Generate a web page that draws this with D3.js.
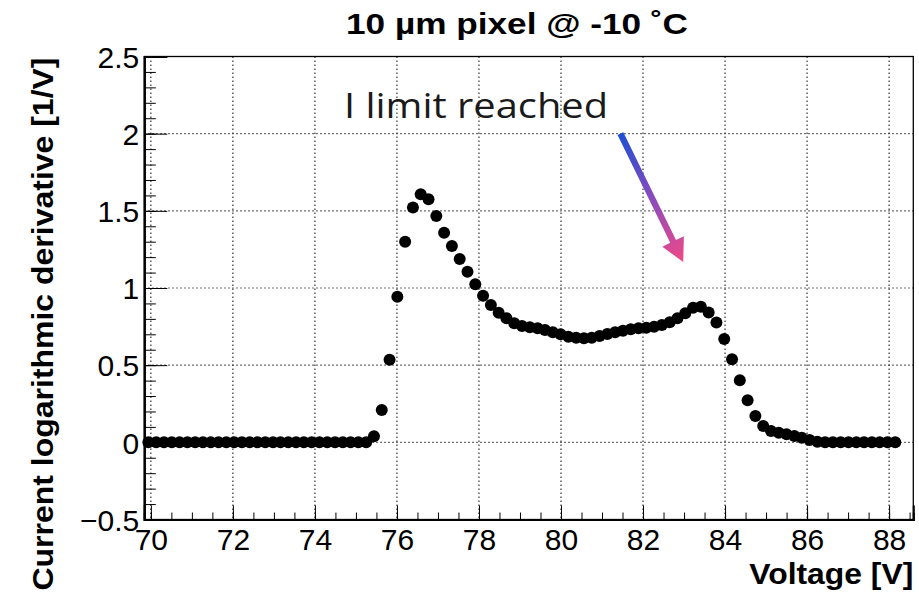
<!DOCTYPE html>
<html>
<head>
<meta charset="utf-8">
<script src="https://cdn.jsdelivr.net/npm/d3@7/dist/d3.min.js"></script>
<style>
  html, body { margin: 0; padding: 0; background: #fff; }
  svg { display: block; }
</style>
</head>
<body>
<svg id="chart" width="919" height="599"></svg>
<script>
// ---- Data ----
const voltage = [
  69.94, 70.13, 70.32, 70.51, 70.70, 70.89, 71.08, 71.27, 71.46, 71.65,
  71.84, 72.03, 72.22, 72.41, 72.60, 72.79, 72.98, 73.16, 73.35, 73.54,
  73.73, 73.92, 74.11, 74.30, 74.49, 74.68, 74.87, 75.06, 75.25, 75.44,
  75.63, 75.82, 76.01, 76.20, 76.39, 76.58, 76.77, 76.96, 77.15, 77.34,
  77.53, 77.72, 77.91, 78.10, 78.29, 78.48, 78.67, 78.86, 79.05, 79.24,
  79.43, 79.61, 79.80, 79.99, 80.18, 80.37, 80.56, 80.75, 80.94, 81.13,
  81.32, 81.51, 81.70, 81.89, 82.08, 82.27, 82.46, 82.65, 82.84, 83.03,
  83.22, 83.41, 83.60, 83.79, 83.98, 84.17, 84.36, 84.55, 84.74, 84.93,
  85.12, 85.31, 85.50, 85.69, 85.87, 86.06, 86.25, 86.44, 86.63, 86.82,
  87.01, 87.20, 87.39, 87.58, 87.77, 87.96, 88.15
];
const logDerivative = [
  0, 0, 0, 0, 0, 0, 0, 0, 0, 0,
  0, 0, 0, 0, 0, 0, 0, 0, 0, 0,
  0, 0, 0, 0, 0, 0, 0, 0, 0, 0.039,
  0.209, 0.535, 0.944, 1.300, 1.521, 1.607, 1.575, 1.467, 1.358, 1.272,
  1.188, 1.106, 1.024, 0.950, 0.890, 0.840, 0.804, 0.771, 0.754, 0.745,
  0.739, 0.728, 0.713, 0.700, 0.684, 0.678, 0.674, 0.678, 0.689, 0.702,
  0.713, 0.723, 0.732, 0.739, 0.743, 0.749, 0.760, 0.778, 0.804, 0.836,
  0.872, 0.879, 0.841, 0.776, 0.669, 0.538, 0.402, 0.272, 0.170, 0.106,
  0.073, 0.062, 0.052, 0.041, 0.030, 0.015, 0.004, 0, 0, 0,
  0, 0, 0, 0, 0, 0, 0
];
const xTickValues = [70, 72, 74, 76, 78, 80, 82, 84, 86, 88];
const xTickLabels = ["70", "72", "74", "76", "78", "80", "82", "84", "86", "88"];
const yTickValues = [-0.5, 0, 0.5, 1, 1.5, 2, 2.5];
const yTickLabels = ["\u22120.5", "0", "0.5", "1", "1.5", "2", "2.5"];
const titleText = "10 µm pixel @ -10 ˚C";
const xTitle = "Voltage [V]";
const yTitle = "Current logarithmic derivative [1/V]";
const noteText = "I limit reached";

// ---- Layout ----
const frame = { left: 144.3, right: 913.3, top: 56.5, bottom: 519.5 };
const xDomain = [69.84, 88.59];
const yDomain = [-0.5, 2.5];

const svg = d3.select("#chart");
const x = d3.scaleLinear().domain(xDomain).range([frame.left, frame.right]);
const y = d3.scaleLinear().domain(yDomain).range([frame.bottom, frame.top]);

const FONT = "'Liberation Sans', Arial, Helvetica, sans-serif";

// grid (dotted)
const grid = svg.append("g").attr("stroke", "#333").attr("stroke-width", 1.2)
  .attr("stroke-dasharray", "1.4,2.6").attr("fill", "none");
grid.selectAll("line.gx").data(xTickValues).join("line")
  .attr("x1", d => x(d)).attr("x2", d => x(d))
  .attr("y1", frame.top).attr("y2", frame.bottom);
grid.selectAll("line.gy").data(yTickValues.filter(v => v > yDomain[0])).join("line")
  .attr("class", "gy")
  .attr("x1", frame.left).attr("x2", frame.right)
  .attr("y1", d => y(d)).attr("y2", d => y(d));

// frame
svg.append("rect").attr("x", frame.left).attr("y", frame.top)
  .attr("width", frame.right - frame.left).attr("height", frame.bottom - frame.top)
  .attr("fill", "none").attr("stroke", "#000").attr("stroke-width", 1.3);

// axes with inside ticks (ROOT style)
const xMinor = d3.range(140, 178).map(v => v / 2).filter(v => v >= xDomain[0] && v <= xDomain[1]);
const yMinor = d3.range(-5, 26).map(v => v / 10);

const xAxisMinor = d3.axisBottom(x).tickValues(xMinor).tickSize(-7).tickFormat("");
const xAxisMajor = d3.axisBottom(x).tickValues(xTickValues).tickSize(-14)
  .tickFormat((d, i) => xTickLabels[i]);
const yAxisMinor = d3.axisLeft(y).tickValues(yMinor).tickSize(-11.5).tickFormat("");
const yAxisMajor = d3.axisLeft(y).tickValues(yTickValues).tickSize(-23)
  .tickFormat((d, i) => yTickLabels[i]);

function styleAxis(g) {
  g.select(".domain").attr("stroke", "#000").attr("stroke-width", 2);
  g.selectAll(".tick line").attr("stroke", "#000").attr("stroke-width", 1);
  g.selectAll("text").attr("font-family", FONT).attr("font-size", 30).attr("fill", "#000");
}
svg.append("g").attr("transform", `translate(0,${frame.bottom})`).call(xAxisMinor).call(styleAxis);
const gx = svg.append("g").attr("transform", `translate(0,${frame.bottom})`).call(xAxisMajor).call(styleAxis);
gx.selectAll(".tick text").attr("dy", null).attr("y", 30);
svg.append("g").attr("transform", `translate(${frame.left},0)`).call(yAxisMinor).call(styleAxis);
const gy = svg.append("g").attr("transform", `translate(${frame.left},0)`).call(yAxisMajor).call(styleAxis);
gy.selectAll(".tick text").attr("dy", "0.36em").attr("x", -5);

// data points
svg.append("g").selectAll("circle").data(voltage).join("circle")
  .attr("cx", d => x(d)).attr("cy", (d, i) => y(logDerivative[i]))
  .attr("r", 6).attr("fill", "#000");

// titles
svg.append("text").attr("x", 517).attr("y", 34).attr("text-anchor", "middle")
  .attr("font-family", FONT).attr("font-weight", "bold").attr("font-size", 30)
  .attr("textLength", 342).attr("lengthAdjust", "spacingAndGlyphs")
  .text(titleText);
svg.append("text").attr("x", frame.right).attr("y", 584).attr("text-anchor", "end")
  .attr("font-family", FONT).attr("font-weight", "bold").attr("font-size", 29)
  .attr("textLength", 164).attr("lengthAdjust", "spacingAndGlyphs")
  .text(xTitle);
svg.append("text").attr("transform", `translate(53,${frame.top + 1}) rotate(-90)`)
  .attr("text-anchor", "end")
  .attr("font-family", FONT).attr("font-weight", "bold").attr("font-size", 29)
  .attr("textLength", 533).attr("lengthAdjust", "spacingAndGlyphs")
  .text(yTitle);

// annotation
const defs = svg.append("defs");
const a0 = [81.45, 2.0], a1 = [82.98, 1.168];
const grad = defs.append("linearGradient").attr("id", "arrowGrad")
  .attr("gradientUnits", "userSpaceOnUse")
  .attr("x1", x(a0[0])).attr("y1", y(a0[1])).attr("x2", x(a1[0])).attr("y2", y(a1[1]));
grad.append("stop").attr("offset", 0).attr("stop-color", "#1d4fd3");
grad.append("stop").attr("offset", 0.5).attr("stop-color", "#8a4bbf");
grad.append("stop").attr("offset", 1).attr("stop-color", "#f04a86");

const p0 = [x(a0[0]), y(a0[1])], p1 = [x(a1[0]), y(a1[1])];
const dx = p1[0] - p0[0], dy = p1[1] - p0[1];
const len = Math.hypot(dx, dy), ux = dx / len, uy = dy / len, nx = -uy, ny = ux;
const headL = 23, headW = 12, shaftW = 3.2;
const bx = p1[0] - ux * headL, by = p1[1] - uy * headL;
const arrowPts = [
  [p0[0] + nx * shaftW, p0[1] + ny * shaftW],
  [bx + nx * shaftW, by + ny * shaftW],
  [bx + nx * headW, by + ny * headW],
  [p1[0], p1[1]],
  [bx - nx * headW, by - ny * headW],
  [bx - nx * shaftW, by - ny * shaftW],
  [p0[0] - nx * shaftW, p0[1] - ny * shaftW]
];
svg.append("path").attr("d", d3.line()(arrowPts) + "Z").attr("fill", "url(#arrowGrad)");

svg.append("text").attr("x", x(74.71)).attr("y", y(2.10))
  .attr("font-family", "'Open Sans', 'Noto Sans', sans-serif").attr("font-size", 34)
  .attr("fill", "#1a1a1a").attr("textLength", 264).attr("lengthAdjust", "spacingAndGlyphs")
  .text(noteText);
</script>
</body>
</html>
